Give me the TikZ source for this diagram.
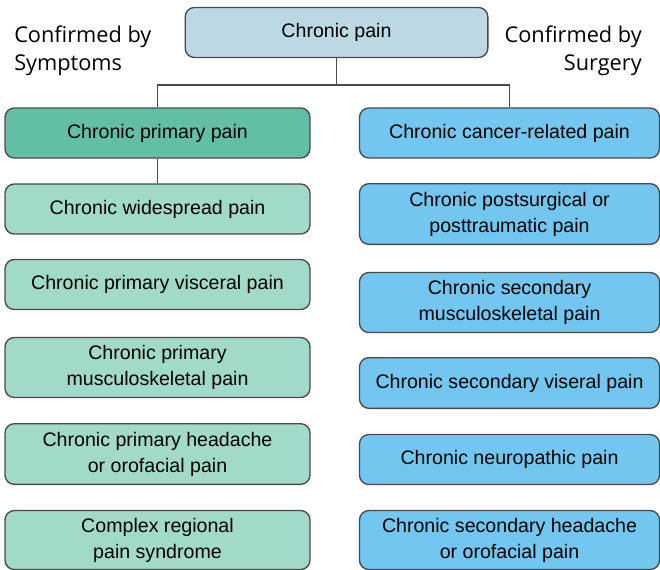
\documentclass[tikz,border=0pt]{standalone}
\usepackage{fontspec}
\setmainfont{Liberation Sans}
\newfontfamily\labelfont{Open Sans}
\usetikzlibrary{positioning}
\definecolor{topblue}{HTML}{BDD8E5}
\definecolor{primgreen}{HTML}{62BFA5}
\definecolor{lightgreen}{HTML}{A2DACA}
\definecolor{skyblue}{HTML}{72C6EF}
\definecolor{edge}{HTML}{4A4A4A}

\begin{document}
\begin{tikzpicture}[
  x=0.75pt, y=-0.75pt,
  box/.style={draw=edge, line width=1pt, rounded corners=7pt, align=center,
    inner sep=0pt, font=\fontsize{14.7}{19.5}\selectfont},
  top/.style={box, fill=topblue, minimum width=227pt, minimum height=37.5pt},
  prim/.style={box, fill=primgreen, minimum width=228.75pt, minimum height=37.5pt},
  lft/.style={box, fill=lightgreen, minimum width=228.75pt, minimum height=#1},
  rgt/.style={box, fill=skyblue, minimum width=225pt, minimum height=#1},
  lbl/.style={inner sep=0pt, font=\labelfont\fontsize{16.3}{21}\selectfont},
  link/.style={draw=edge, line width=0.8pt}
]
  \useasboundingbox (0,0) rectangle (660,569);

  % root and the two labels
  \node[top] (root) at (336.5,32.5) {Chronic pain};
  \node[lbl, anchor=north west, align=left] (symp) at (14,26) {Confirmed by\\Symptoms};
  \node[lbl, anchor=north east, align=right] (surg) at (642,26) {Confirmed by\\Surgery};

  % left column
  \node[prim] (prim) at (157.5,133) {Chronic primary pain};
  \node[lft=37.5pt] (wide) at (157.5,209) {Chronic widespread pain};
  \node[lft=37.5pt] (visc) at (157.5,284.5) {Chronic primary visceral pain};
  \node[lft=45pt]   (musc) at (157.5,367.5) {Chronic primary\\musculoskeletal pain};
  \node[lft=45.5pt] (head) at (157.5,454) {Chronic primary headache\\or orofacial pain};
  \node[lft=44.25pt] (crps) at (157.5,540) {Complex regional\\pain syndrome};

  % right column
  \node[rgt=37.5pt] (canc) at (509.5,133) {Chronic cancer-related pain};
  \node[rgt=45.5pt] (post) at (509.5,214) {Chronic postsurgical or\\posttraumatic pain};
  \node[rgt=45pt]   (smus) at (509.5,302.5) {Chronic secondary\\musculoskeletal pain};
  \node[rgt=38pt]   (svis) at (509.5,383) {Chronic secondary viseral pain};
  \node[rgt=37.5pt] (neur) at (509.5,459.5) {Chronic neuropathic pain};
  \node[rgt=44.25pt] (shea) at (509.5,540) {Chronic secondary headache\\or orofacial pain};

  % connectors
  \coordinate (fork) at (root.south |- 0,85);
  \draw[link] (root.south) -- (fork) -| (prim.north);
  \draw[link] (fork) -| (canc.north);
  \draw[link] (prim.south) -- (wide.north);
\end{tikzpicture}
\end{document}
